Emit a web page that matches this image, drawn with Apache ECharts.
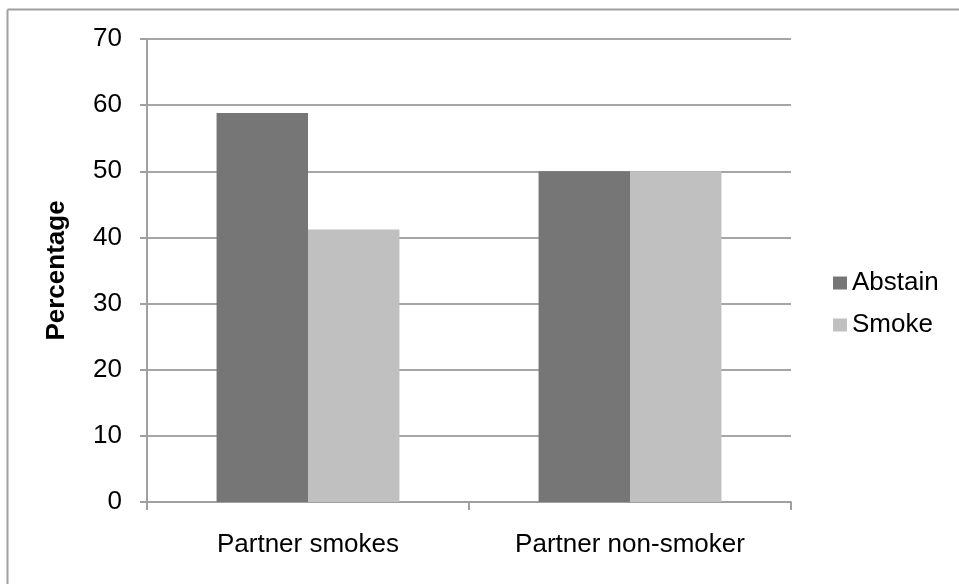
<!DOCTYPE html>
<html><head><meta charset="utf-8">
<script src="https://cdn.jsdelivr.net/npm/echarts@6/dist/echarts.min.js"></script>
<style>html,body{margin:0;padding:0;background:#fff}#c{width:959px;height:584px}</style>
</head><body><div id="c"></div>
<script>
const categories = ['Partner smokes', 'Partner non-smoker'];
const abstain = [58.8, 50];
const smoke = [41.2, 50];
const yTicks = [0, 10, 20, 30, 40, 50, 60, 70];

const chart = echarts.init(document.getElementById('c'));
const font = 'Liberation Sans, Arial, sans-serif';
chart.setOption({
  animation: false,
  graphic: [
    {type:'line', shape:{x1:7.5,y1:9.5,x2:959,y2:9.5}, style:{stroke:'#a0a0a0', lineWidth:2}, silent:true},
    {type:'line', shape:{x1:7.5,y1:9.5,x2:7.5,y2:584}, style:{stroke:'#a0a0a0', lineWidth:2}, silent:true}
  ],
  grid: {left:147, right:168, top:39, bottom:82},
  legend: {
    orient:'vertical', left:828, top:265, itemWidth:14, itemHeight:13, itemGap:16,
    icon:'rect',
    textStyle:{fontFamily:font, fontSize:26, color:'#000'},
    data:['Abstain','Smoke']
  },
  xAxis: {
    type:'category', data:categories, boundaryGap:true,
    axisLine:{lineStyle:{color:'#a0a0a0', width:2}},
    axisTick:{show:true, length:8, alignWithLabel:false, lineStyle:{color:'#a0a0a0', width:2}},
    axisLabel:{fontFamily:font, fontSize:26, color:'#000', margin:30}
  },
  yAxis: {
    type:'value', min:yTicks[0], max:yTicks[yTicks.length-1], interval:10,
    name:'Percentage', nameLocation:'middle', nameGap:77, nameRotate:90,
    nameTextStyle:{fontFamily:font, fontSize:26, fontWeight:'bold', color:'#000'},
    axisLine:{show:true, lineStyle:{color:'#a0a0a0', width:2}},
    axisTick:{show:true, length:7, lineStyle:{color:'#a0a0a0', width:2}},
    axisLabel:{fontFamily:font, fontSize:26, color:'#000', margin:25},
    splitLine:{lineStyle:{color:'#a6a6a6', width:2}}
  },
  series: [
    {name:'Abstain', type:'bar', data:abstain, barWidth:'28.4%', barGap:'0%', itemStyle:{color:'#767676'}},
    {name:'Smoke', type:'bar', data:smoke, barWidth:'28.4%', barGap:'0%', itemStyle:{color:'#c0c0c0'}}
  ]
});
</script></body></html>
